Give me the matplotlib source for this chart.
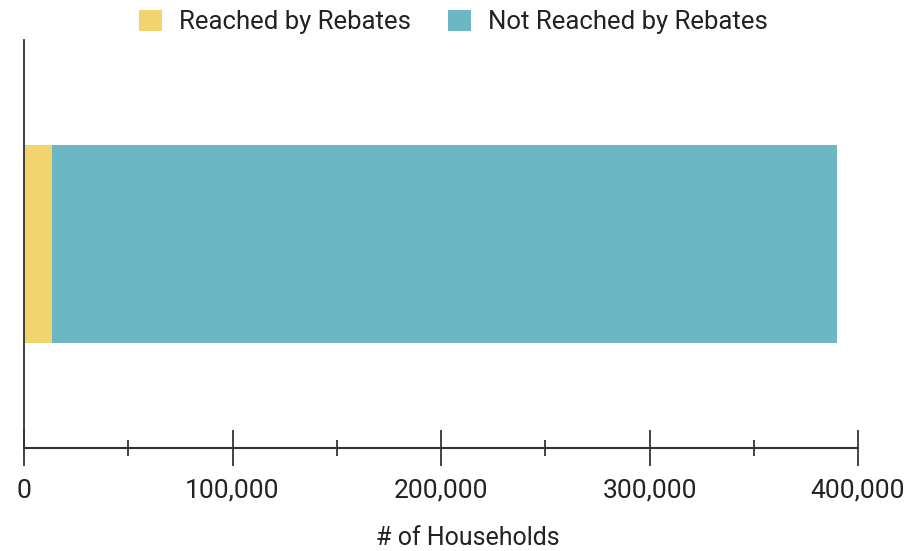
import matplotlib.pyplot as plt
from matplotlib.ticker import FuncFormatter, MultipleLocator

plt.rcParams['font.family'] = ['Roboto', 'DejaVu Sans']

categories = ['Households']
reached = [13500]
not_reached = [376500]
series_names = ['Reached by Rebates', 'Not Reached by Rebates']
colors = ['#F2D46E', '#6BB8C4']

fig = plt.figure(figsize=(9.07, 5.51), dpi=100)
ax = fig.add_axes([24/907, 103/551, 834/907, 408/551])

ax.barh(categories, reached, height=0.97, color=colors[0], label=series_names[0])
ax.barh(categories, not_reached, left=reached, height=0.97, color=colors[1], label=series_names[1])

ax.set_ylim(-1, 1)
ax.set_xlim(0, 400000)
ax.set_yticks([])
ax.xaxis.set_major_locator(MultipleLocator(100000))
ax.xaxis.set_minor_locator(MultipleLocator(50000))
ax.xaxis.set_major_formatter(FuncFormatter(lambda v, p: f'{int(v):,}'))
ax.tick_params(axis='x', which='major', direction='inout', length=26, width=1.2, color='#222222',
               labelsize=19, pad=9, labelcolor='#222222')
ax.tick_params(axis='x', which='minor', direction='inout', length=12, width=1.2, color='#222222')

for s in ['top', 'right']:
    ax.spines[s].set_visible(False)
ax.spines['left'].set_color('#333333')
ax.spines['bottom'].set_color('#333333')
ax.spines['left'].set_linewidth(1.3)
ax.spines['bottom'].set_linewidth(1.5)

ax.set_xlabel('# of Households', fontsize=18, color='#222222')
ax.xaxis.set_label_coords(0.532, -0.19)

fig.legend(loc='upper center', bbox_to_anchor=(0.5, 1.024), ncol=2, frameon=False,
           fontsize=18.5, handlelength=0.9, handleheight=0.9, columnspacing=1.45,
           handletextpad=0.66, labelcolor='#222222')

plt.savefig('out.png', dpi=100)
